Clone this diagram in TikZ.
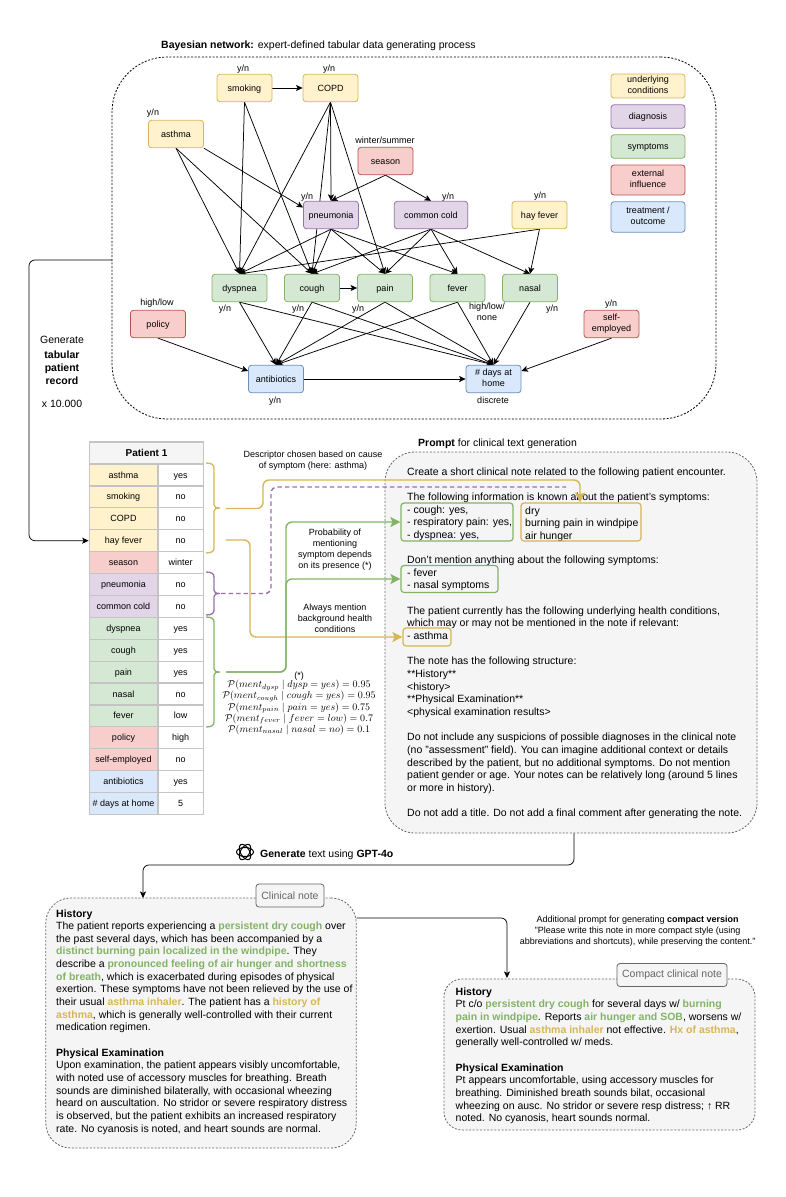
\documentclass[tikz,border=0pt]{standalone}
\usepackage{amsmath}
\usepackage{amssymb}
\usepackage{fontspec}
\setmainfont{Liberation Sans}
\usetikzlibrary{arrows.meta,backgrounds}

\definecolor{yelfill}{HTML}{FFF2CC}\definecolor{yelline}{HTML}{D6B656}
\definecolor{purfill}{HTML}{E1D5E7}\definecolor{purline}{HTML}{9673A6}
\definecolor{grnfill}{HTML}{D5E8D4}\definecolor{grnline}{HTML}{82B366}
\definecolor{redfill}{HTML}{F8CECC}\definecolor{redline}{HTML}{B85450}
\definecolor{blufill}{HTML}{DAE8FC}\definecolor{bluline}{HTML}{6C8EBF}
\definecolor{panelfill}{HTML}{F5F5F5}\definecolor{panelline}{HTML}{666666}
\definecolor{gridline}{HTML}{C4C4C4}

\newcommand{\grn}[1]{\textbf{\textcolor{grnline}{#1}}}
\newcommand{\ylw}[1]{\textbf{\textcolor{yelline}{#1}}}
\newcommand{\linestrut}{\rule[-.22\baselineskip]{0pt}{\baselineskip}}
% colour, top of the bracket, half of its height
\newcommand{\curly}[3]{\draw[bracket, #1] (206, #2)
  .. controls +(6, 0) and +(0, -3) .. ++(8, 5) -- ++(0, #3 - 8)
  .. controls +(0, 2) and +(-4, 0) .. ++(6, 3)
  .. controls +(-4, 0) and +(0, -2) .. ++(-6, 3) -- ++(0, #3 - 8)
  .. controls +(0, 3) and +(6, 0) .. ++(-8, 5);}

\tikzset{
  small/.style={font=\fontsize{9}{11}\selectfont},
  large/.style={font=\fontsize{10.5}{13}\selectfont},
  base/.style={small, inner sep=0pt, align=center,
    execute at begin node=\linestrut, execute at end node=\linestrut},
  netbox/.style={base, draw, rounded corners=3pt, line width=0.8pt,
    minimum width=55pt, minimum height=27.5pt},
  yelbox/.style={netbox, fill=yelfill, draw=yelline},
  purbox/.style={netbox, fill=purfill, draw=purline},
  grnbox/.style={netbox, fill=grnfill, draw=grnline},
  redbox/.style={netbox, fill=redfill, draw=redline},
  blubox/.style={netbox, fill=blufill, draw=bluline},
  legend/.style={minimum width=74pt},
  note/.style={base},
  edge/.style={line width=0.75pt, -{Stealth[length=6.5pt,width=6pt,inset=1.5pt]}},
  cell/.style={base, draw=gridline, line width=1.2pt, minimum height=21.9pt},
  panel/.style={draw=panelline, fill=panelfill, line width=0.8pt,
    dash pattern=on 2pt off 1.6pt, inner sep=0pt},
  paneltext/.style={inner sep=0pt, align=left, anchor=north west,
    font=\fontsize{10.5}{12.65}\selectfont, execute at begin node=\strut},
  tag/.style={draw=panelline, fill=panelfill, rounded corners=3pt, line width=0.8pt,
    text=panelline, inner sep=0pt, font=\fontsize{10.5}{12.65}\selectfont},
  pick/.style={draw, rounded corners=3pt, line width=1.2pt, inner sep=0pt},
  bracket/.style={line width=1.3pt},
  wire/.style={line width=1.4pt, rounded corners=6pt},
  bigtip/.style={-{Stealth[length=10pt,width=10pt,inset=2pt]}}
}

\begin{document}
\begin{tikzpicture}[x=1pt, y=-1pt]
  \useasboundingbox (0, 0) rectangle (785, 1197);

  % Bayesian network
  \node[draw, rounded corners=55pt, line width=0.8pt, dash pattern=on 2pt off 1.6pt,
    minimum width=604pt, minimum height=362pt, inner sep=0pt] (bayesbox) at (414, 238) {};
  \node[note, large, anchor=west] (bayestitle) at (161, 45)
    {\textbf{Bayesian network:} expert-defined tabular data generating process};

  \node[yelbox] (smoking)    at (244.5,  88) {smoking};
  \node[yelbox] (copd)       at (330.5,  88) {COPD};
  \node[yelbox] (asthma)     at (176,   134) {asthma};
  \node[redbox] (season)     at (385.5, 161) {season};
  \node[purbox] (pneumonia)  at (331,   215) {pneumonia};
  \node[purbox, minimum width=73.5pt] (commoncold) at (431, 215) {common cold};
  \node[yelbox] (hayfever)   at (539.5, 215) {hay fever};
  \node[grnbox] (dyspnea)    at (239.5, 288) {dyspnea};
  \node[grnbox] (cough)      at (312,   288) {cough};
  \node[grnbox] (pain)       at (385,   288) {pain};
  \node[grnbox] (fever)      at (457.5, 288) {fever};
  \node[grnbox] (nasal)      at (530,   288) {nasal};
  \node[redbox] (policy)     at (158,   324) {policy};
  \node[redbox] (selfemp)    at (611.5, 324) {self-\\employed};
  \node[blubox] (antibiotics) at (276,  379) {antibiotics};
  \node[blubox] (days)       at (493.5, 379) {\# days at\\home};

  \node[note] (smokingval)  at (243,  68) {y/n};
  \node[note] (copdval)     at (329,  68) {y/n};
  \node[note] (asthmaval)   at (153, 112) {y/n};
  \node[note] (seasonval)   at (385, 140) {winter/summer};
  \node[note] (pneumoval)   at (307, 196) {y/n};
  \node[note] (coldval)     at (448, 196) {y/n};
  \node[note] (hayval)      at (540, 195) {y/n};
  \node[note] (dyspval)     at (225, 308) {y/n};
  \node[note] (coughval)    at (298, 308) {y/n};
  \node[note] (painval)     at (358, 308) {y/n};
  \node[note] (feverval)    at (487, 312.5) {high/low/\\none};
  \node[note] (nasalval)    at (552, 308) {y/n};
  \node[note] (policyval)   at (157, 302) {high/low};
  \node[note] (selfval)     at (611, 303) {y/n};
  \node[note] (antibval)    at (275, 400) {y/n};
  \node[note] (daysval)     at (493, 400) {discrete};

  \node[yelbox, legend, minimum height=24pt]   (keyyel) at (648,  86) {underlying\\conditions};
  \node[purbox, legend, minimum height=23.5pt] (keypur) at (648, 116.5) {diagnosis};
  \node[grnbox, legend, minimum height=23.5pt] (keygrn) at (648, 146.5) {symptoms};
  \node[redbox, legend, minimum height=30pt]   (keyred) at (648, 180) {external\\influence};
  \node[blubox, legend, minimum height=30.5pt] (keyblu) at (648, 217) {treatment /\\outcome};

  \begin{scope}[on background layer]
  \foreach \from/\to in {smoking.east/copd.west,
      smoking.south/dyspnea.north, smoking.south/cough.north,
      copd.south/dyspnea.north, copd.south/cough.north,
      copd.south/pneumonia.north, copd.south/pain.north,
      asthma.south east/pneumonia.165, asthma.south/dyspnea.north, asthma.south/cough.north,
      season.south/pneumonia.north, season.south/commoncold.north,
      pneumonia.south/dyspnea.north, pneumonia.south/cough.north,
      pneumonia.south/pain.north, pneumonia.south/fever.north,
      commoncold.south/cough.north, commoncold.south/pain.north,
      commoncold.south/fever.north, commoncold.south/nasal.north,
      hayfever.south/dyspnea.north, hayfever.south/nasal.north,
      cough.east/pain.west,
      dyspnea.south/antibiotics.north, dyspnea.south/days.north,
      cough.south/antibiotics.north, cough.south/days.north,
      pain.south/antibiotics.north, pain.south/days.north,
      fever.south/antibiotics.north, fever.south/days.north,
      nasal.south/days.north,
      policy.south/antibiotics.164, selfemp.south/days.16,
      antibiotics.east/days.west}
    \draw[edge] (\from) -- (\to);
  \end{scope}

  \node[note, large] (gentab) at (62, 361.5) {Generate\\[2pt]\textbf{tabular}\\\textbf{patient}\\\textbf{record}};
  \node[note, large] (gencount) at (62, 404) {x 10.000};

  % Patient table
  \node[cell, fill=panelfill, minimum width=114pt, minimum height=22pt,
    font=\fontsize{10}{12}\selectfont\bfseries] (patient) at (146.5, 453) {Patient 1};
  \foreach \i/\lab/\shade/\val in {0/asthma/yelfill/yes, 1/smoking/yelfill/no, 2/COPD/yelfill/no,
      3/hay fever/yelfill/no, 4/season/redfill/winter, 5/pneumonia/purfill/no,
      6/common cold/purfill/no, 7/dyspnea/grnfill/yes, 8/cough/grnfill/yes, 9/pain/grnfill/yes,
      10/nasal/grnfill/no, 11/fever/grnfill/low, 12/policy/redfill/high,
      13/self-employed/redfill/no, 14/antibiotics/blufill/yes, 15/\# days at home/blufill/5}
  {
    \node[cell, fill=\shade, minimum width=68.5pt] (lab\i) at (123.5, 475 + 21.9*\i) {\lab};
    \node[cell, fill=white, minimum width=45.5pt] (val\i) at (180.7, 475 + 21.9*\i) {\val};
  }

  \coordinate (bayesout) at (112, 260);
  \draw[edge, rounded corners=6pt] (bayesout) -- (29, 260) |- (lab3.west);

  % Prompt
  \node[panel, rounded corners=30pt, minimum width=372pt, minimum height=381pt] (promptbox) at (571, 642.5) {};
  \node[note, large, anchor=west] (prompttitle) at (418, 443)
    {\textbf{Prompt} for clinical text generation};
  \node[paneltext] (prompttext) at (407, 467.3) {Create a short clinical note related to the following patient encounter.\\[12.65pt]
    The following information is known about the patient's symptoms:\\
    - cough: yes,\\
    - respiratory pain: yes,\\
    - dyspnea: yes,\\[12.65pt]
    Don't mention anything about the following symptoms:\\
    - fever\\
    - nasal symptoms\\[12.65pt]
    The patient currently has the following underlying health conditions,\\
    which may or may not be mentioned in the note if relevant:\\
    - asthma\\[12.65pt]
    The note has the following structure:\\
    **History**\\
    <history>\\
    **Physical Examination**\\
    <physical examination results>\\[12.65pt]
    Do not include any suspicions of possible diagnoses in the clinical note\\
    (no "assessment" field). You can imagine additional context or details\\
    described by the patient, but no additional symptoms. Do not mention\\
    patient gender or age. Your notes can be relatively long (around 5 lines\\
    or more in history).\\[12.65pt]
    Do not add a title. Do not add a final comment after generating the note.};
  \node[paneltext] (symptomtext) at (525, 506.2) {dry\\burning pain in windpipe\\air hunger};

  \node[pick, draw=grnline, minimum width=112pt, minimum height=38pt] (knownbox) at (457, 522) {};
  \node[pick, draw=yelline, minimum width=120pt, minimum height=38pt] (descrbox) at (581, 522) {};
  \node[pick, draw=grnline, minimum width=97pt, minimum height=27pt] (hiddenbox) at (449.5, 579) {};
  \node[pick, draw=yelline, minimum width=48pt, minimum height=18pt] (condbox) at (427, 637) {};

  % Brackets and connectors
  \curly{yelline}{463}{45}
  \curly{purline}{572}{21.5}
  \curly{grnline}{617}{55}

  \coordinate (yelout) at (225.5, 508.5);
  \coordinate (yelback) at (225.5, 540);
  \coordinate (purout) at (221, 593.5);
  \coordinate (purend) at (566, 487);
  \coordinate (grnout) at (226, 672);

  \draw[wire, yelline, bigtip] (yelout) -- (263, 508.5) |- (580, 480) -- (descrbox.north -| 580, 503);
  \draw[wire, yelline, bigtip] (yelback) -- (250, 540) |- (condbox.west);
  \draw[wire, purline, dash pattern=on 4.5pt off 3pt] (purout) -- (271, 593.5) |- (purend);
  \draw[wire, grnline, bigtip] (grnout) -- (286, 672) |- (knownbox.west);
  \draw[wire, grnline, bigtip] (grnout) -- (286, 672) |- (hiddenbox.west);

  \node[note] (descrnote) at (313, 461) {Descriptor chosen based on cause\\of symptom (here: asthma)};
  \node[note] (probnote) at (335, 550) {Probability of\\mentioning\\symptom depends\\on its presence (*)};
  \node[note] (alwaysnote) at (335, 619) {Always mention\\background health\\conditions};

  \node[note] (starnote) at (299, 675) {(*)};
  \node[inner sep=0pt, align=center, font=\fontsize{10.4}{11.2}\selectfont] (condprob) at (299, 707.5) {%
    $\mathcal{P}(ment_{dysp} \mid dysp = yes) = 0.95$\\
    $\mathcal{P}(ment_{cough} \mid cough = yes) = 0.95$\\
    $\mathcal{P}(ment_{pain} \mid pain = yes) = 0.75$\\
    $\mathcal{P}(ment_{fever} \mid fever = low) = 0.7$\\
    $\mathcal{P}(ment_{nasal} \mid nasal = no) = 0.1$};

  % Clinical note
  \node[panel, rounded corners=25pt, minimum width=310.5pt, minimum height=250pt] (clinicalbox) at (201, 1023) {};
  \node[paneltext] (clinicaltext) at (56, 909.2) {\textbf{History}\\
    The patient reports experiencing a \grn{persistent dry cough} over\\
    the past several days, which has been accompanied by a\\
    \grn{distinct burning pain localized in the windpipe}. They\\
    describe a \grn{pronounced feeling of air hunger and shortness}\\
    \grn{of breath}, which is exacerbated during episodes of physical\\
    exertion. These symptoms have not been relieved by the use of\\
    their usual \ylw{asthma inhaler}. The patient has a \ylw{history of}\\
    \ylw{asthma}, which is generally well-controlled with their current\\
    medication regimen.\\[12.65pt]
    \textbf{Physical Examination}\\
    Upon examination, the patient appears visibly uncomfortable,\\
    with noted use of accessory muscles for breathing. Breath\\
    sounds are diminished bilaterally, with occasional wheezing\\
    heard on auscultation. No stridor or severe respiratory distress\\
    is observed, but the patient exhibits an increased respiratory\\
    rate. No cyanosis is noted, and heart sounds are normal.};
  \node[tag, minimum width=68pt, minimum height=23pt] (clinicaltag) at (290, 895.5) {Clinical note};

  % Compact note
  \node[panel, rounded corners=18pt, minimum width=311pt, minimum height=151pt] (compactbox) at (599.5, 1054.5) {};
  \node[paneltext] (compacttext) at (455.5, 987.4) {\textbf{History}\\
    Pt c/o \grn{persistent dry cough} for several days w/ \grn{burning}\\
    \grn{pain in windpipe}. Reports \grn{air hunger and SOB}, worsens w/\\
    exertion. Usual \ylw{asthma inhaler} not effective. \ylw{Hx of asthma},\\
    generally well-controlled w/ meds.\\[12.65pt]
    \textbf{Physical Examination}\\
    Pt appears uncomfortable, using accessory muscles for\\
    breathing. Diminished breath sounds bilat, occasional\\
    wheezing on ausc. No stridor or severe resp distress; ↑ RR\\
    noted. No cyanosis, heart sounds normal.};
  \node[tag, minimum width=110pt, minimum height=23pt] (compacttag) at (672, 975) {Compact clinical note};

  \node[note] (compactnote) at (637.7, 931) {Additional prompt for generating \textbf{compact version}\\
    "Please write this note in more compact style (using\\
    abbreviations and shortcuts), while preserving the content."};

  % Generate step
  \foreach \a in {0, 60, 120}
    \draw[line width=1pt, rotate around={\a:(245, 852)}] (245, 852) ellipse (8.5pt and 4.5pt);
  \node[note, large, anchor=west] (gentext) at (260, 853.5)
    {\textbf{Generate} text using \textbf{GPT-4o}};

  \draw[edge, rounded corners=6pt] (promptbox.south -| 574, 833) -- (574, 865) -| (143, 898);
  \draw[edge, rounded corners=6pt] (clinicalbox.east |- 0, 918) -| (507, 978);

\end{tikzpicture}
\end{document}
